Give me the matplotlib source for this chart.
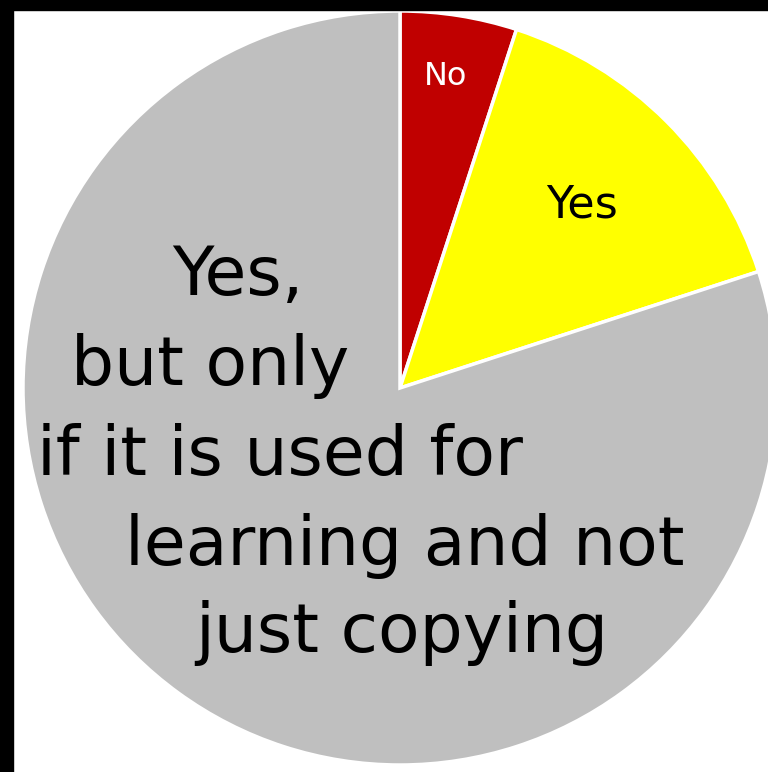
import matplotlib
matplotlib.use("Agg")
import matplotlib.pyplot as plt
from matplotlib.patches import Rectangle

# slice data (clockwise from 12 o'clock)
labels = ["No", "Yes", "Yes, but only if it is used for learning and not just copying"]
shares = [5, 15, 80]
colors = ["#C00000", "#FFFF00", "#BFBFBF"]

# the big grey label, split the way the original shows it
big_lines = ["Yes,", "but only", "if it is used for", "learning and not", "just copying"]
big_x = [238, 210, 280, 405, 402]
big_base = [295, 385, 475, 565, 652]

W, H = 768, 772
plt.rcParams["font.family"] = ["DejaVu Sans"]
fig = plt.figure(figsize=(W / 100, H / 100), dpi=100)
ax = fig.add_axes([0, 0, 1, 1])

ax.pie(shares, colors=colors, startangle=90, counterclock=False,
       center=(400, H - 388), radius=377,
       wedgeprops=dict(edgecolor="white", linewidth=2.5))
ax.set_xlim(0, W)
ax.set_ylim(0, H)
ax.set_aspect("equal")
ax.axis("off")

# texts placed in pixel space (y measured from the top)
ax.text(446, H - 85, labels[0], color="white", fontsize=23, ha="center", va="baseline")
ax.text(582, H - 218, labels[1], color="black", fontsize=32, ha="center", va="baseline")
for s, x, y in zip(big_lines, big_x, big_base):
    ax.text(x, H - y, s, color="black", fontsize=49, ha="center", va="baseline")

# black frame strips on the left and top of the original screenshot
fig.patches.append(Rectangle((0, 0), 13 / W, 1, transform=fig.transFigure, color="black"))
fig.patches.append(Rectangle((0, 1 - 10 / H), 1, 10 / H, transform=fig.transFigure, color="black"))

fig.savefig("out.png", dpi=100)
